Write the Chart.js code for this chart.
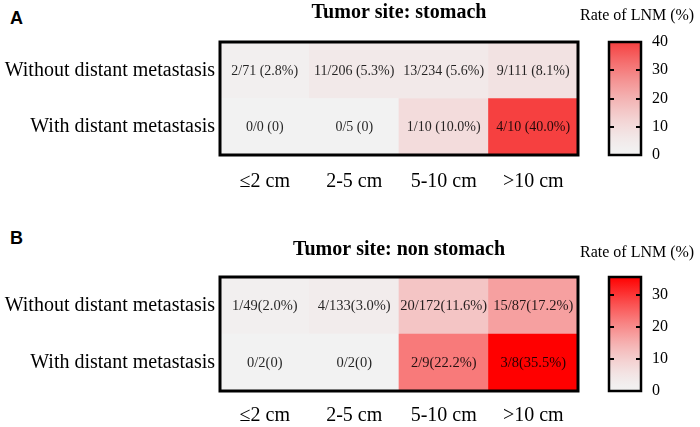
<!DOCTYPE html>
<html>
<head>
<meta charset="utf-8">
<script src="https://cdn.jsdelivr.net/npm/chart.js@4/dist/chart.umd.min.js"></script>
<style>
  body { margin: 0; background: #fff; }
  #wrap { position: relative; width: 700px; height: 427px; overflow: hidden; background: #fff; }
  canvas { position: absolute; }
  .tag { position: absolute; left: 10px; font: bold 18px "Liberation Sans", Arial, sans-serif; line-height: 20px; color: #000; }
</style>
</head>
<body>
<div id="wrap">
  <div class="tag" style="top:8px">A</div>
  <div class="tag" style="top:228px">B</div>
  <canvas id="heatA" width="590" height="215" style="left:0;top:0"></canvas>
  <canvas id="barA" width="120" height="200" style="left:580px;top:0"></canvas>
  <canvas id="heatB" width="590" height="218" style="left:0;top:226px"></canvas>
  <canvas id="barB" width="120" height="201" style="left:580px;top:226px"></canvas>
</div>
<script>
const sizeLabels = ['≤2 cm', '2-5 cm', '5-10 cm', '>10 cm'];
const rowLabels = ['Without distant metastasis', 'With distant metastasis'];

// Tumor site: stomach
const stomachWithoutCases = [2, 11, 13, 9];
const stomachWithoutTotal = [71, 206, 234, 111];
const stomachWithoutRate = [2.8, 5.3, 5.6, 8.1];
const stomachWithCases = [0, 0, 1, 4];
const stomachWithTotal = [0, 5, 10, 10];
const stomachWithRate = [0, 0, 10.0, 40.0];
const stomachTicks = [0, 10, 20, 30, 40];

// Tumor site: non stomach
const otherWithoutCases = [1, 4, 20, 15];
const otherWithoutTotal = [49, 133, 172, 87];
const otherWithoutRate = [2.0, 3.0, 11.6, 17.2];
const otherWithCases = [0, 0, 2, 3];
const otherWithTotal = [2, 2, 9, 8];
const otherWithRate = [0, 0, 22.2, 35.5];
const otherTicks = [0, 10, 20, 30];

const SERIF = '"Liberation Serif", "Times New Roman", serif';
const LOW = [242, 242, 242];

function rateColor(v, max, hi) {
  const f = Math.pow(Math.max(0, v) / max, 1.5);
  return 'rgb(' + LOW.map((c, i) => Math.round(c + (hi[i] - c) * f)).join(',') + ')';
}

function cellText(cases, total, rate, sep) {
  return cases.map((c, i) => `${c}/${total[i]}${sep}(${rate[i] ? rate[i].toFixed(1) + '%' : 0})`);
}

const frame = {
  id: 'frame',
  afterDraw(chart, args, opts) {
    const a = chart.chartArea, ctx = chart.ctx;
    ctx.save();
    ctx.strokeStyle = '#000';
    ctx.lineWidth = opts.width || 3;
    ctx.strokeRect(a.left, a.top, a.right - a.left, a.bottom - a.top);
    ctx.restore();
  }
};

const cellLabels = {
  id: 'cellLabels',
  afterDatasetsDraw(chart, args, opts) {
    if (!opts.size) return;
    const ctx = chart.ctx;
    ctx.save();
    ctx.font = `${opts.size}px ${SERIF}`;
    ctx.fillStyle = 'rgba(0,0,0,0.85)';
    ctx.textAlign = 'center';
    ctx.textBaseline = 'middle';
    chart.data.datasets.forEach((ds, d) => {
      chart.getDatasetMeta(d).data.forEach((bar, i) => {
        ctx.fillText(ds.texts[i], bar.x, (bar.y + bar.base) / 2 + 1);
      });
    });
    ctx.restore();
  }
};

const innerTicks = {
  id: 'innerTicks',
  afterDraw(chart, args, opts) {
    if (!opts.on) return;
    const s = chart.scales.y, a = chart.chartArea, ctx = chart.ctx;
    ctx.save();
    ctx.strokeStyle = '#000';
    ctx.lineWidth = 2;
    s.ticks.forEach(t => {
      if (t.value <= s.min || t.value >= s.max) return;
      const y = Math.round(s.getPixelForValue(t.value));
      ctx.beginPath();
      ctx.moveTo(a.left, y); ctx.lineTo(a.left + 5, y);
      ctx.moveTo(a.right - 5, y); ctx.lineTo(a.right, y);
      ctx.stroke();
    });
    ctx.restore();
  }
};

function makeHeatmap(id, o) {
  const max = Math.max(...o.topRate, ...o.bottomRate);
  new Chart(document.getElementById(id), {
    type: 'bar',
    data: {
      labels: sizeLabels,
      datasets: [
        { label: rowLabels[1], data: o.bottomRate.map(() => 1), texts: o.bottomText,
          backgroundColor: o.bottomRate.map(v => rateColor(v, max, o.hi)) },
        { label: rowLabels[0], data: o.topRate.map(() => 1), texts: o.topText,
          backgroundColor: o.topRate.map(v => rateColor(v, max, o.hi)) }
      ]
    },
    options: {
      responsive: false, animation: false, devicePixelRatio: 1,
      barPercentage: 1, categoryPercentage: 1,
      datasets: { bar: { borderWidth: 0, borderSkipped: false } },
      layout: { padding: { left: 0, right: 12, top: 0, bottom: o.padBottom } },
      scales: {
        x: {
          stacked: true,
          grid: { display: false, drawTicks: false }, border: { display: false },
          ticks: { color: '#000', padding: o.xPad, font: { family: SERIF, size: 20 } }
        },
        y: {
          stacked: true, min: 0, max: 2,
          grid: { display: false, drawTicks: false }, border: { display: false },
          afterBuildTicks: s => { s.ticks = [{ value: 0.5 }, { value: 1.5 }]; },
          afterFit: s => { s.width = 220; },
          ticks: { color: '#000', padding: 5, font: { family: SERIF, size: 20 },
                   callback: v => rowLabels[Math.round(1.5 - v)] }
        }
      },
      plugins: {
        legend: { display: false }, tooltip: { enabled: false },
        title: { display: true, text: o.title, fullSize: false, color: '#000',
                 font: { family: SERIF, size: 20, weight: 'bold' },
                 padding: { top: o.titleTop, bottom: o.titleBottom } },
        frame: { width: 3 },
        cellLabels: { size: o.cellSize }
      }
    },
    plugins: [frame, cellLabels]
  });
}

function makeColorbar(id, o) {
  const max = Math.max(...o.rates);
  new Chart(document.getElementById(id), {
    type: 'bar',
    data: {
      labels: [''],
      datasets: [{
        data: [[0, max]], yAxisID: 'y', borderWidth: 0, borderSkipped: false,
        backgroundColor: c => {
          const a = c.chart.chartArea;
          if (!a) return rateColor(max, max, o.hi);
          const g = c.chart.ctx.createLinearGradient(0, a.bottom, 0, a.top);
          for (let k = 0; k <= 20; k++) g.addColorStop(k / 20, rateColor(max * k / 20, max, o.hi));
          return g;
        }
      }]
    },
    options: {
      responsive: false, animation: false, devicePixelRatio: 1,
      barPercentage: 1, categoryPercentage: 1,
      layout: { padding: { left: 0, right: 0, top: 0, bottom: o.padBottom } },
      scales: {
        x: { display: false },
        pad: {
          type: 'linear', position: 'left', display: true, min: 0, max: 1,
          ticks: { display: false }, grid: { display: false, drawTicks: false }, border: { display: false },
          afterFit: s => { s.width = 29; }
        },
        y: {
          position: 'right', min: 0, max: max,
          grid: { display: false, drawTicks: false }, border: { display: false },
          afterBuildTicks: s => { s.ticks = o.ticks.map(v => ({ value: v })); },
          afterFit: s => { s.width = 59; },
          ticks: { color: '#000', padding: 11, font: { family: SERIF, size: 16 } }
        }
      },
      plugins: {
        legend: { display: false }, tooltip: { enabled: false },
        title: { display: true, text: 'Rate of LNM (%)', align: 'start', color: '#000',
                 font: { family: SERIF, size: 16, weight: 'normal' },
                 padding: { top: o.titleTop, bottom: o.titleBottom } },
        frame: { width: 2.5 },
        innerTicks: { on: true }
      }
    },
    plugins: [frame, innerTicks]
  });
}

const HI_A = [246, 64, 64];
const HI_B = [255, 0, 0];

makeHeatmap('heatA', {
  title: 'Tumor site: stomach', hi: HI_A, cellSize: 14,
  topRate: stomachWithoutRate, bottomRate: stomachWithRate,
  topText: cellText(stomachWithoutCases, stomachWithoutTotal, stomachWithoutRate, ' '),
  bottomText: cellText(stomachWithCases, stomachWithTotal, stomachWithRate, ' '),
  titleTop: 0.5, titleBottom: 17.5, xPad: 15, padBottom: 6
});
makeColorbar('barA', {
  rates: stomachWithoutRate.concat(stomachWithRate), hi: HI_A, ticks: stomachTicks,
  titleTop: 6.4, titleBottom: 16.4, padBottom: 45
});
makeHeatmap('heatB', {
  title: 'Tumor site: non stomach', hi: HI_B, cellSize: 14.5,
  topRate: otherWithoutRate, bottomRate: otherWithRate,
  topText: cellText(otherWithoutCases, otherWithoutTotal, otherWithoutRate, ''),
  bottomText: cellText(otherWithCases, otherWithTotal, otherWithRate, ''),
  titleTop: 12, titleBottom: 15, xPad: 13, padBottom: 3
});
makeColorbar('barB', {
  rates: otherWithoutRate.concat(otherWithRate), hi: HI_B, ticks: otherTicks,
  titleTop: 17.4, titleBottom: 14.4, padBottom: 36
});
</script>
</body>
</html>
